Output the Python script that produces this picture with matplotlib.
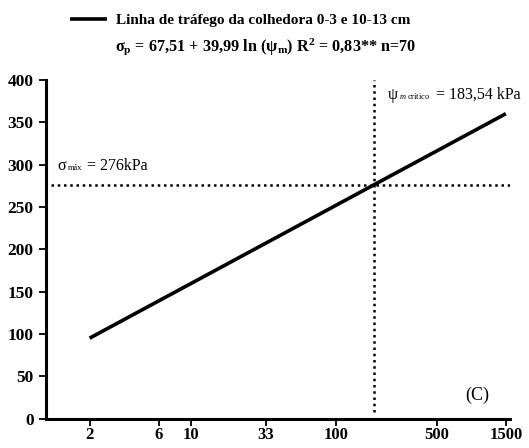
import numpy as np
import matplotlib
matplotlib.use("Agg")
import matplotlib.pyplot as plt
from matplotlib.offsetbox import TextArea, HPacker, AnnotationBbox

plt.rcParams["font.family"] = ["Liberation Serif", "DejaVu Serif"]
plt.rcParams["mathtext.fontset"] = "custom"
plt.rcParams["mathtext.rm"] = "Liberation Serif"
plt.rcParams["mathtext.it"] = "Liberation Serif:italic"
plt.rcParams["mathtext.bf"] = "Liberation Serif:bold"

# data
psi_m = [2, 1500]
sigma_p = [95.2, 360.0]
psi_critico = 183.54
sigma_max = 276
x_ticks = [2, 6, 10, 33, 100, 500, 1500]
y_ticks = [0, 50, 100, 150, 200, 250, 300, 350, 400]

fig = plt.figure(figsize=(5.29, 4.48), dpi=100)
ax = fig.add_axes([0.087, 0.065, 0.877, 0.757])

line, = ax.plot(psi_m, sigma_p, color="black", lw=2.6, solid_capstyle="butt")
ax.axhline(sigma_max, color="black", ls=(0, (1, 1.5)), lw=1.8, xmin=0.01)
ax.axvline(psi_critico, color="black", ls=(0, (1, 1.5)), lw=1.8, ymin=0.02, ymax=1.0)

ax.set_xscale("log")
ax.set_xlim(1, 1600)
ax.set_ylim(0, 400)
ax.set_xticks(x_ticks)
ax.set_xticklabels([str(t) for t in x_ticks])
ax.minorticks_off()
ax.set_yticks(y_ticks)

for s in ["top", "right"]:
    ax.spines[s].set_visible(False)
for s in ["left", "bottom"]:
    ax.spines[s].set_linewidth(2.2)

ax.tick_params(axis="both", direction="out", length=5, width=1.3,
               labelsize=12.5, pad=4)
ax.tick_params(axis="x", labelsize=12, pad=1)
for lab in ax.get_xticklabels() + ax.get_yticklabels():
    lab.set_fontweight("bold")


def small_sub(main, sub, rest, x, y):
    parts = [TextArea(main, textprops=dict(fontsize=11.5)),
             TextArea(sub, textprops=dict(fontsize=6)),
             TextArea(rest, textprops=dict(fontsize=11.5))]
    box = HPacker(children=parts, align="baseline", pad=0, sep=1)
    ab = AnnotationBbox(box, (x, y), xycoords="data", box_alignment=(0, 0.5),
                        frameon=False, pad=0)
    ax.add_artist(ab)


small_sub("σ", "máx", " = 276kPa", 1.2, 298)
small_sub("ψ", r"$m$ crítico", " = 183,54 kPa", 229, 382)
ax.text(0.93, 0.07, "(C)", transform=ax.transAxes, fontsize=13, ha="center", va="center")

fig.legend([line], ["Linha de tráfego da colhedora 0-3 e 10-13 cm"],
           loc="center left", bbox_to_anchor=(0.107, 0.955), frameon=False,
           handlelength=2.4, handletextpad=0.6,
           prop={"weight": "bold", "size": 11})
fig.text(0.217, 0.895,
         r"σ$_\mathbf{p}$ = 67,51 + 39,99 ln (ψ$_\mathbf{m}$) R$^\mathbf{2}$ = 0,83** n=70",
         fontsize=11.7, fontweight="bold", ha="left", va="center")

fig.savefig("out.png", dpi=100)
